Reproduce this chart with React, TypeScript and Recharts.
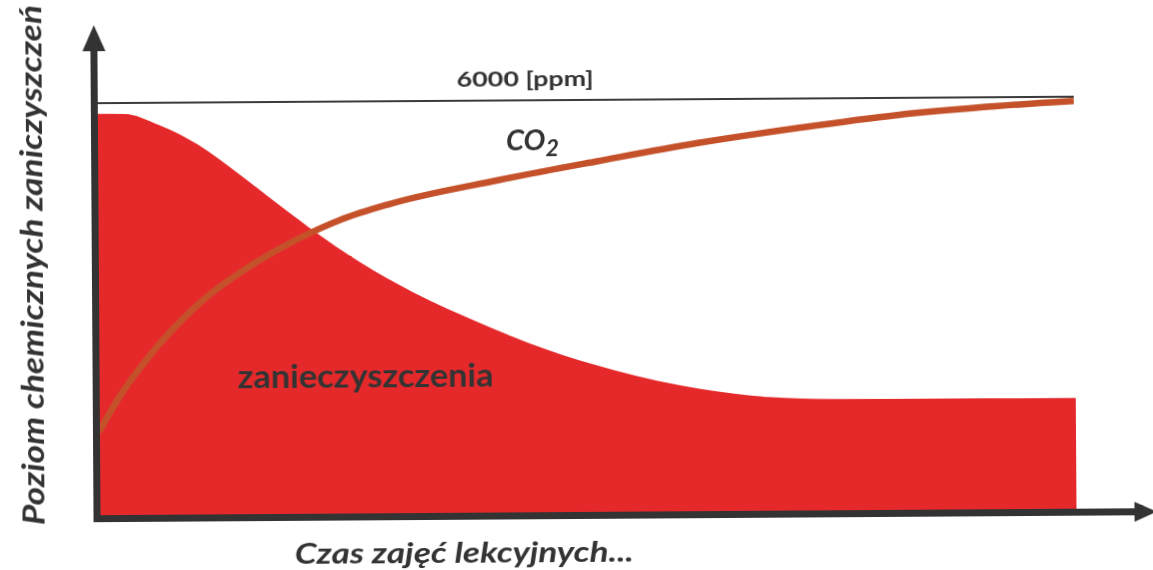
import { ComposedChart, Area, Line, XAxis, YAxis, ReferenceLine } from 'recharts';

// time axis runs 0..100 (no ticks in the original), values in ppm-like units
const pollutionX = [0, 2.8, 6.35, 10.4, 14.5, 18.6, 22.7, 26.8, 32.2, 39.1, 46.0, 52.7, 61.6, 68.5, 75.2, 87.2, 100];
const pollutionY = [5842, 5840, 5676, 5381, 4955, 4499, 4059, 3662, 3220, 2761, 2362, 2064, 1780, 1656, 1621, 1615, 1612];

const co2X = [0, 2.25, 5.3, 10.4, 15.6, 20.7, 24.8, 29.9, 41.1, 51.3, 61.5, 71.7, 81.9, 92.3, 100];
const co2Y = [1212, 1748, 2327, 3080, 3614, 4017, 4275, 4503, 4842, 5109, 5362, 5570, 5750, 5872, 5937];

const LIMIT = 6000;
const LIMIT_LABEL = '6000 [ppm]';
const SERIES_LABEL = 'zanieczyszczenia';
const X_TITLE = 'Czas zajęć lekcyjnych...';
const Y_TITLE = 'Poziom chemicznych zaniczyszczeń';

const pollution = pollutionX.map((x, i) => ({ x, y: pollutionY[i] }));
const co2 = co2X.map((x, i) => ({ x, y: co2Y[i] }));

const W = 1153;
const H = 570;
const INK = '#333333';
const FONT = "Lato, 'Open Sans', sans-serif";

export default function App() {
  return (
    <div
      style={{
        position: 'fixed',
        left: 0,
        top: 0,
        width: W,
        height: H,
        background: '#fff',
        transform: 'rotate(-0.38deg)',
        transformOrigin: '576px 285px',
      }}
    >
      <ComposedChart width={W} height={H} margin={{ top: 31.33, right: 78, bottom: 58, left: 98 }}>
        <XAxis type="number" dataKey="x" domain={[0, 100]} hide allowDataOverflow />
        <YAxis type="number" domain={[0, 7000]} hide allowDataOverflow />
        <Area
          data={pollution}
          dataKey="y"
          type="monotone"
          fill="#e5292b"
          fillOpacity={1}
          stroke="none"
          isAnimationActive={false}
        />
        <Line
          data={co2}
          dataKey="y"
          type="monotone"
          stroke="#c4512a"
          strokeWidth={6.5}
          dot={false}
          activeDot={false}
          isAnimationActive={false}
        />
        <ReferenceLine y={LIMIT} stroke="#3a3a3a" strokeWidth={2} />
      </ComposedChart>

      <svg
        width={W}
        height={H}
        style={{ position: 'absolute', left: 0, top: 0, pointerEvents: 'none' }}
        fontFamily={FONT}
      >
        {/* axes with arrow heads */}
        <line x1={95.5} y1={45} x2={95.5} y2={519} stroke={INK} strokeWidth={7} />
        <polygon points="84,48 95.5,22 107,48" fill={INK} />
        <line x1={92} y1={515.5} x2={1136} y2={515.5} stroke={INK} strokeWidth={7} />
        <polygon points="1133,505.5 1155,515.5 1133,525.5" fill={INK} />

        <text x={458} y={86} fontSize={21} fontWeight={700} fill={INK} textLength={137} lengthAdjust="spacingAndGlyphs">
          {LIMIT_LABEL}
        </text>

        <text x={507} y={150} fontSize={29} fontWeight={700} fontStyle="italic" fill={INK}>
          CO
          <tspan fontSize={23} dy={6}>2</tspan>
        </text>

        <text x={237} y={386} fontSize={32} fontWeight={700} fill={INK} textLength={256} lengthAdjust="spacingAndGlyphs">
          {SERIES_LABEL}
        </text>

        <text x={293} y={562} fontSize={28} fontWeight={700} fontStyle="italic" fill={INK} textLength={339} lengthAdjust="spacingAndGlyphs">
          {X_TITLE}
        </text>

        <text
          x={0}
          y={0}
          transform="translate(43 521.5) rotate(-90)"
          fontSize={30}
          fontWeight={700}
          fontStyle="italic"
          fill={INK}
          textLength={520}
          lengthAdjust="spacingAndGlyphs"
        >
          {Y_TITLE}
        </text>
      </svg>
    </div>
  );
}
